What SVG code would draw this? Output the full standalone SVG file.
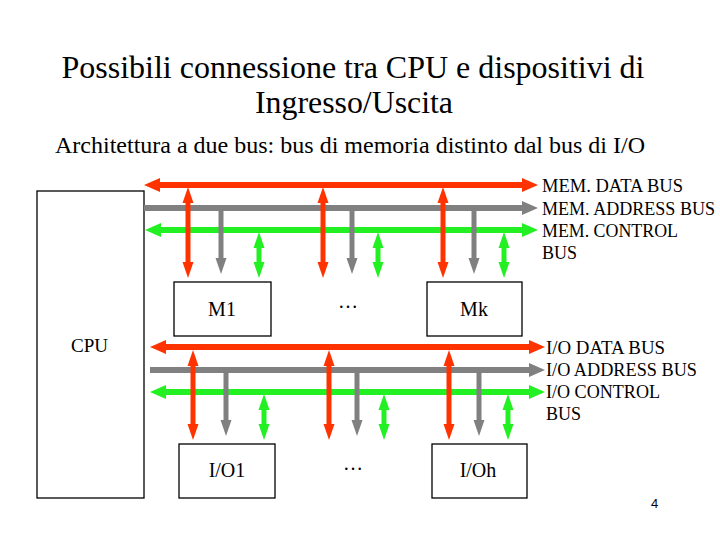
<svg xmlns="http://www.w3.org/2000/svg" width="720" height="540" viewBox="0 0 720 540">
<style>
text{font-family:"Liberation Serif","Times New Roman",serif;fill:#000}
.title{font-size:32px;text-anchor:middle}
.sub{font-size:24px;text-anchor:middle}
.lbl{font-size:18px}
.nt{font-size:20px;text-anchor:middle}
.box{fill:#fff;stroke:#000;stroke-width:1.3}
.busR{stroke:#FF3300;stroke-width:6;fill:none}
.busG{stroke:#808080;stroke-width:6;fill:none}
.busL{stroke:#22F022;stroke-width:6;fill:none}
.vR{stroke:#FF3300;stroke-width:5;fill:none}
.vG{stroke:#808080;stroke-width:5;fill:none}
.vL{stroke:#22F022;stroke-width:5;fill:none}
</style>
<defs>
<marker id="hR" markerUnits="userSpaceOnUse" markerWidth="16" markerHeight="16" refX="4" refY="8" orient="auto-start-reverse"><path d="M0,1 L16,8 L0,15 Z" fill="#FF3300"/></marker>
<marker id="hG" markerUnits="userSpaceOnUse" markerWidth="16" markerHeight="16" refX="4" refY="8" orient="auto-start-reverse"><path d="M0,1 L16,8 L0,15 Z" fill="#808080"/></marker>
<marker id="hL" markerUnits="userSpaceOnUse" markerWidth="16" markerHeight="16" refX="4" refY="8" orient="auto-start-reverse"><path d="M0,1 L16,8 L0,15 Z" fill="#22F022"/></marker>
<marker id="vR" markerUnits="userSpaceOnUse" markerWidth="16" markerHeight="12" refX="4" refY="6" orient="auto-start-reverse"><path d="M0,0.5 L16,6 L0,11.5 Z" fill="#FF3300"/></marker>
<marker id="vG" markerUnits="userSpaceOnUse" markerWidth="16" markerHeight="12" refX="4" refY="6" orient="auto-start-reverse"><path d="M0,0.5 L16,6 L0,11.5 Z" fill="#808080"/></marker>
<marker id="vL" markerUnits="userSpaceOnUse" markerWidth="16" markerHeight="12" refX="4" refY="6" orient="auto-start-reverse"><path d="M0,0.5 L16,6 L0,11.5 Z" fill="#22F022"/></marker>
</defs>
<rect width="720" height="540" fill="#fff"/>
<g id="title">
<text class="title" x="353" y="78" textLength="583" lengthAdjust="spacingAndGlyphs">Possibili connessione tra CPU e dispositivi di</text>
<text class="title" x="354" y="113" textLength="198" lengthAdjust="spacingAndGlyphs">Ingresso/Uscita</text>
<text class="sub" x="350" y="153" textLength="590" lengthAdjust="spacingAndGlyphs">Architettura a due bus: bus di memoria distinto dal bus di I/O</text>
</g>
<g id="cpu"><rect class="box" x="37" y="191" width="107" height="307"/><text x="71" y="352" style="font-size:19px">CPU</text></g>
<g id="connectors">
<line class="busR" x1="156" y1="185" x2="526" y2="185" marker-start="url(#hR)" marker-end="url(#hR)"/>
<line class="busG" x1="144" y1="208" x2="526" y2="208" marker-end="url(#hG)"/>
<line class="busL" x1="157" y1="230" x2="526" y2="230" marker-start="url(#hL)" marker-end="url(#hL)"/>
<line class="vR" x1="188" y1="199" x2="188" y2="266" marker-start="url(#vR)" marker-end="url(#vR)"/>
<line class="vG" x1="221" y1="208" x2="221" y2="262" marker-end="url(#vG)"/>
<line class="vL" x1="259" y1="244" x2="259" y2="266" marker-start="url(#vL)" marker-end="url(#vL)"/>
<line class="vR" x1="323" y1="199" x2="323" y2="266" marker-start="url(#vR)" marker-end="url(#vR)"/>
<line class="vG" x1="352" y1="208" x2="352" y2="262" marker-end="url(#vG)"/>
<line class="vL" x1="378" y1="244" x2="378" y2="266" marker-start="url(#vL)" marker-end="url(#vL)"/>
<line class="vR" x1="443" y1="199" x2="443" y2="266" marker-start="url(#vR)" marker-end="url(#vR)"/>
<line class="vG" x1="474" y1="208" x2="474" y2="262" marker-end="url(#vG)"/>
<line class="vL" x1="504" y1="244" x2="504" y2="266" marker-start="url(#vL)" marker-end="url(#vL)"/>
<line class="busR" x1="162" y1="347" x2="533" y2="347" marker-start="url(#hR)" marker-end="url(#hR)"/>
<line class="busG" x1="150" y1="370" x2="533" y2="370" marker-end="url(#hG)"/>
<line class="busL" x1="162" y1="392" x2="533" y2="392" marker-start="url(#hL)" marker-end="url(#hL)"/>
<line class="vR" x1="193" y1="362" x2="193" y2="428" marker-start="url(#vR)" marker-end="url(#vR)"/>
<line class="vG" x1="226" y1="370" x2="226" y2="424" marker-end="url(#vG)"/>
<line class="vL" x1="264" y1="406" x2="264" y2="428" marker-start="url(#vL)" marker-end="url(#vL)"/>
<line class="vR" x1="329" y1="362" x2="329" y2="428" marker-start="url(#vR)" marker-end="url(#vR)"/>
<line class="vG" x1="357" y1="370" x2="357" y2="424" marker-end="url(#vG)"/>
<line class="vL" x1="384" y1="406" x2="384" y2="428" marker-start="url(#vL)" marker-end="url(#vL)"/>
<line class="vR" x1="449" y1="362" x2="449" y2="428" marker-start="url(#vR)" marker-end="url(#vR)"/>
<line class="vG" x1="479" y1="370" x2="479" y2="424" marker-end="url(#vG)"/>
<line class="vL" x1="508" y1="406" x2="508" y2="428" marker-start="url(#vL)" marker-end="url(#vL)"/>
</g>
<g id="bus-labels">
<text class="lbl" x="542" y="192" textLength="141" lengthAdjust="spacingAndGlyphs">MEM. DATA BUS</text>
<text class="lbl" x="542" y="215" textLength="173" lengthAdjust="spacingAndGlyphs">MEM. ADDRESS BUS</text>
<text class="lbl" x="542" y="237" textLength="136" lengthAdjust="spacingAndGlyphs">MEM. CONTROL</text>
<text class="lbl" x="542" y="259" textLength="35" lengthAdjust="spacingAndGlyphs">BUS</text>
<text class="lbl" x="546" y="354" textLength="119" lengthAdjust="spacingAndGlyphs">I/O DATA BUS</text>
<text class="lbl" x="546" y="376" textLength="151" lengthAdjust="spacingAndGlyphs">I/O ADDRESS BUS</text>
<text class="lbl" x="546" y="398" textLength="114" lengthAdjust="spacingAndGlyphs">I/O CONTROL</text>
<text class="lbl" x="546" y="420" textLength="35" lengthAdjust="spacingAndGlyphs">BUS</text>
</g>
<g id="m1"><rect class="box" x="174" y="282" width="97" height="54"/><text class="nt" x="222" y="316">M1</text></g>
<g id="mdots"><text class="nt" x="348" y="308">…</text></g>
<g id="mk"><rect class="box" x="427" y="282" width="95" height="54"/><text class="nt" x="474" y="316">Mk</text></g>
<g id="io1"><rect class="box" x="179" y="444" width="96" height="54"/><text class="nt" x="227" y="477">I/O1</text></g>
<g id="iodots"><text class="nt" x="353" y="470">…</text></g>
<g id="ioh"><rect class="box" x="432" y="444" width="95" height="54"/><text class="nt" x="478" y="477">I/Oh</text></g>
<text x="651" y="508" style="font-family:'Liberation Sans',Arial,sans-serif;font-size:13px">4</text>
</svg>
